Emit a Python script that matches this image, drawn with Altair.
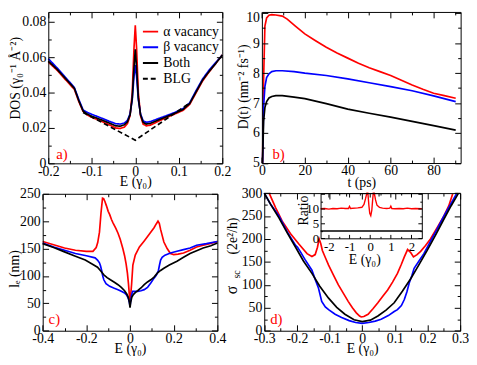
import altair as alt
import pandas as pd

FONT = "Liberation Serif"
W, H = 469, 349

A_SERIES = ["α vacancy", "β vacancy", "Both", "BLG"]
SERIES = ["α vacancy", "β vacancy", "Both"]
COLORS = ["#ff0000", "#0000ff", "#000000"]

# ---------------- (a) DOS ----------------
A_E = [-0.2, -0.18, -0.16, -0.14, -0.13, -0.12, -0.11, -0.1, -0.08, -0.06, -0.045, -0.035, -0.025,
       -0.018, -0.012, -0.007, -0.003, 0.0, 0.003, 0.007, 0.012, 0.018, 0.025, 0.035, 0.05, 0.07,
       0.09, 0.11, 0.125, 0.14, 0.155, 0.17, 0.185, 0.2]
A_ALPHA = [0.0573, 0.0527, 0.0472, 0.0418, 0.0350, 0.0293, 0.0273, 0.0260, 0.0240, 0.0218, 0.0200,
           0.0197, 0.0205, 0.0225, 0.027, 0.040, 0.065, 0.078, 0.065, 0.040, 0.027, 0.0222, 0.0212,
           0.0216, 0.0234, 0.0257, 0.0278, 0.0300, 0.0333, 0.0400, 0.0467, 0.0518, 0.0565, 0.0613]
A_BETA = [0.0592, 0.0540, 0.0485, 0.0428, 0.0362, 0.0302, 0.0288, 0.0277, 0.0258, 0.0238, 0.0224,
          0.0222, 0.0228, 0.0243, 0.028, 0.036, 0.049, 0.0555, 0.049, 0.036, 0.028, 0.0240, 0.0232,
          0.0236, 0.0250, 0.0268, 0.0287, 0.0310, 0.0342, 0.0412, 0.0478, 0.0528, 0.0570, 0.0612]
A_BOTH = [0.0578, 0.0532, 0.0478, 0.0424, 0.0355, 0.0296, 0.0278, 0.0266, 0.0248, 0.0228, 0.0212,
          0.0210, 0.0218, 0.0235, 0.0275, 0.037, 0.054, 0.0645, 0.054, 0.037, 0.0275, 0.0232, 0.0222,
          0.0226, 0.0242, 0.0262, 0.0282, 0.0305, 0.0338, 0.0405, 0.0472, 0.0521, 0.0565, 0.0612]
A_BLG_E = [-0.12, 0.0, 0.1225]
A_BLG = [0.0288, 0.0131, 0.0337]

# ---------------- (b) D(t) ----------------
B_T_RED = [0.3, 0.8, 1.4, 2.2, 3.3, 4.6, 6.5, 9.5, 11.8, 15.6, 20, 25, 30, 35, 40, 45, 50, 55, 60,
           65, 70, 75, 80, 85, 90.3]
B_RED = [5.0, 7.8, 9.57, 9.84, 9.93, 9.95, 9.94, 9.9, 9.8, 9.57, 9.31, 9.08, 8.86, 8.67, 8.5, 8.33,
         8.18, 8.05, 7.92, 7.76, 7.6, 7.46, 7.33, 7.25, 7.16]
B_T = [0.3, 0.8, 1.4, 2.2, 3.3, 4.6, 6.5, 9.5, 15, 20, 30, 40, 50, 60, 70, 80, 90.3]
B_BLUE = [5.0, 6.9, 7.55, 7.85, 7.98, 8.05, 8.08, 8.08, 8.05, 8.0, 7.92, 7.81, 7.68, 7.55, 7.41, 7.24, 7.05]
B_BLACK = [5.0, 6.4, 6.85, 7.05, 7.17, 7.22, 7.25, 7.25, 7.2, 7.15, 6.98, 6.8, 6.66, 6.53, 6.39, 6.25, 6.1]

# ---------------- (c) l_e ----------------
C_E_RED = [-0.4, -0.35, -0.3, -0.25, -0.2, -0.17, -0.155, -0.148, -0.14, -0.133, -0.126, -0.121,
           -0.115, -0.108, -0.1, -0.093, -0.085, -0.078, -0.065, -0.055, -0.045, -0.033, -0.025,
           -0.018, -0.012, -0.007, -0.003, 0.0, 0.003, 0.007, 0.013, 0.024, 0.043, 0.065, 0.088,
           0.11, 0.12, 0.128, 0.134, 0.14, 0.155, 0.17, 0.185, 0.2, 0.22, 0.245, 0.275, 0.305,
           0.335, 0.365, 0.4]
C_RED = [163, 157, 151, 147, 145, 145, 152, 161, 180, 215, 242, 241, 236, 228, 218, 212, 203, 197,
         187, 178, 167, 150, 137, 122, 105, 85, 65, 48, 65, 84, 120, 138, 153, 164, 176, 188, 195,
         200, 196, 185, 162, 150, 141, 139, 140, 142, 147, 153, 156, 159, 163]
C_E_BLUE = [-0.4, -0.35, -0.3, -0.25, -0.2, -0.16, -0.149, -0.14, -0.135, -0.13, -0.125, -0.12,
            -0.11, -0.093, -0.075, -0.055, -0.04, -0.025, -0.015, -0.007, -0.003, 0.0, 0.003,
            0.007, 0.012, 0.02, 0.035, 0.05, 0.065, 0.08, 0.095, 0.11, 0.12, 0.125, 0.13, 0.135,
            0.14, 0.147, 0.16, 0.185, 0.215, 0.245, 0.275, 0.305, 0.35, 0.4]
C_BLUE = [160, 153, 147, 141, 137, 133, 129, 124, 118, 110, 100, 93, 86, 81, 78, 75, 72, 69, 65,
          58, 52, 45, 55, 65, 72, 72, 72, 73, 75, 79, 87, 96, 101, 105, 110, 120, 129, 134, 138,
          142, 145, 148, 151, 156, 159, 163]
C_E_BLACK = [-0.4, -0.35, -0.3, -0.25, -0.205, -0.17, -0.149, -0.134, -0.12, -0.105, -0.09, -0.07,
             -0.055, -0.04, -0.025, -0.015, -0.008, -0.003, 0.0, 0.003, 0.008, 0.015, 0.025,
             0.035, 0.05, 0.065, 0.08, 0.095, 0.11, 0.125, 0.14, 0.155, 0.18, 0.215, 0.245,
             0.275, 0.305, 0.335, 0.37, 0.4]
C_BLACK = [159, 152, 144, 136, 129, 121, 116, 109, 102, 97, 93, 88, 84, 79, 73, 67, 61, 52, 42,
           52, 61, 66, 70, 73, 78, 84, 89, 93, 98, 105, 110, 114, 120, 127, 134, 141, 146, 151,
           155, 160]

# ---------------- (d) sigma_sc ----------------
D_E_RED = [-0.285, -0.265, -0.245, -0.22, -0.194, -0.169, -0.154, -0.144, -0.137, -0.132, -0.127,
           -0.122, -0.112, -0.103, -0.088, -0.073, -0.058, -0.043, -0.03, -0.018, -0.008, -0.003,
           0.005, 0.018, 0.033, 0.048, 0.063, 0.078, 0.093, 0.108, 0.12, 0.129, 0.139, 0.149,
           0.157, 0.168, 0.179, 0.194, 0.209, 0.23, 0.25, 0.265, 0.277]
D_RED = [300, 268, 239, 212, 189, 168, 162, 166, 182, 200, 190, 175, 158, 143, 121, 100, 82, 64,
         50, 39, 32, 30, 31, 36, 48, 61, 75, 89, 106, 125, 145, 161, 177, 170, 161, 166, 173, 186,
         200, 225, 250, 272, 298]
D_E_BLUE = [-0.3, -0.28, -0.255, -0.23, -0.204, -0.198, -0.19, -0.175, -0.154, -0.144, -0.134,
            -0.124, -0.113, -0.103, -0.083, -0.063, -0.04, -0.02, 0.0, 0.02, 0.04, 0.058, 0.08,
            0.098, 0.108, 0.12, 0.129, 0.137, 0.144, 0.152, 0.159, 0.175, 0.189, 0.209, 0.229,
            0.25, 0.27, 0.29]
D_BLUE = [300, 275, 250, 216, 186, 182, 173, 155, 132, 112, 93, 64, 52, 46, 36, 29, 22, 18, 16, 18,
          21, 25, 33, 42, 46, 55, 68, 85, 104, 120, 136, 153, 168, 195, 221, 250, 275, 300]
D_E_BLACK = [-0.3, -0.28, -0.255, -0.23, -0.204, -0.18, -0.154, -0.13, -0.103, -0.078, -0.053,
             -0.025, 0.0, 0.025, 0.048, 0.073, 0.098, 0.123, 0.149, 0.174, 0.199, 0.225, 0.25,
             0.272, 0.295]
D_BLACK = [300, 275, 246, 214, 182, 152, 125, 97, 71, 51, 36, 24, 20, 23, 32, 45, 61, 86, 114, 144,
           175, 209, 243, 272, 300]

# ---------------- inset: ratio ----------------
I_E_RED = [-2.4, -2.2, -2.0, -1.8, -1.6, -1.4, -1.2, -1.05, -1.0, -0.95, -0.6, -0.4, -0.3, -0.22,
           -0.16, -0.11, -0.06, -0.02, 0.03, 0.08, 0.12, 0.15, 0.2, 0.26, 0.33, 0.45, 0.6, 0.8,
           0.95, 1.0, 1.05, 1.2, 1.4, 1.6, 1.8, 2.0, 2.2, 2.5]
I_RED = [10.0, 10.1, 9.9, 10.1, 10.0, 10.2, 10.1, 10.1, 10.8, 10.1, 10.3, 10.5, 11.5, 13.5, 15.3,
         15.3, 11.0, 8.5, 7.7, 9.5, 13.0, 15.3, 15.3, 13.0, 11.2, 10.5, 10.2, 10.1, 10.2, 10.9,
         10.1, 10.0, 10.1, 10.0, 10.2, 10.0, 10.1, 10.0]
I_E_BLACK = [-2.4, 2.5]
I_BLACK = [2.5, 2.5]

# ---------------- ticks ----------------
A_XMAJ = [-0.2, -0.1, 0.0, 0.1, 0.2]
A_XMIN = [-0.15, -0.05, 0.05, 0.15]
A_YMAJ = [0.0, 0.02, 0.04, 0.06, 0.08]
A_YMIN = [0.01, 0.03, 0.05, 0.07]
B_XMAJ = [0, 20, 40, 60, 80]
B_XMIN = [10, 30, 50, 70, 90]
B_YMAJ = [5, 6, 7, 8, 9, 10]
B_YMIN = [5.5, 6.5, 7.5, 8.5, 9.5]
C_XMAJ = [-0.4, -0.2, 0.0, 0.2, 0.4]
C_XMIN = [-0.3, -0.1, 0.1, 0.3]
C_YMAJ = [0, 50, 100, 150, 200, 250]
C_YMIN = [25, 75, 125, 175, 225]
D_XMAJ = [-0.3, -0.2, -0.1, 0.0, 0.1, 0.2, 0.3]
D_XMIN = [-0.25, -0.15, -0.05, 0.05, 0.15, 0.25]
D_YMAJ = [0, 50, 100, 150, 200, 250, 300]
D_YMIN = [25, 75, 125, 175, 225, 275]
I_XMAJ = [-2, -1, 0, 1, 2]
I_XMIN = [-1.5, -0.5, 0.5, 1.5]
I_YMAJ = [0, 5, 10, 15]
I_YMIN = [2.5, 7.5, 12.5]

# ---------------- layout (pixels inside the chart) ----------------
PANEL_A = dict(xdom=[-0.2, 0.2], ydom=[0.0, 0.0856], xr=[41, 218], yr=[155, 1])
PANEL_B = dict(xdom=[0, 92.6], ydom=[5, 10.04], xr=[258.3, 460.5], yr=[154.7, 1])
PANEL_C = dict(xdom=[-0.4, 0.4], ydom=[0, 250], xr=[35.3, 213], yr=[325.3, 186])
PANEL_D = dict(xdom=[-0.3, 0.3], ydom=[0, 300], xr=[260.7, 460], yr=[325.3, 185.3])
INSET = dict(xdom=[-2.4, 2.5], ydom=[0, 15.3], xr=[318, 421], yr=[231.3, 185.3])

LABEL_EXPR = "replace(format(datum.value, '~g'), '\u2212', '-')"


def scales(p):
    xs = alt.Scale(domain=p["xdom"], range=p["xr"], nice=False, zero=False)
    ys = alt.Scale(domain=p["ydom"], range=p["yr"], nice=False, zero=False)
    return xs, ys


def offsets(p):
    return {"bottom": p["yr"][0] - H, "top": -p["yr"][1],
            "left": -p["xr"][0], "right": p["xr"][1] - W}


def tick_layers(p, xmaj, xmin, ymaj, ymin, big=6, small=3):
    xs, ys = scales(p)
    off = offsets(p)
    corners = pd.DataFrame({"x": p["xdom"], "y": p["ydom"]})
    specs = [("bottom", "left", xmaj, ymaj, big, True),
             ("top", "right", xmaj, ymaj, big, True),
             ("bottom", "left", xmin, ymin, small, False),
             ("top", "right", xmin, ymin, small, False)]
    out = []
    for xo, yo, xv, yv, size, dom in specs:
        common = dict(labels=False, domain=dom, title=None, grid=False,
                      tickSize=alt.ExprRef(expr=str(-size)), domainColor="black",
                      tickColor="black", tickWidth=1, domainWidth=1, zindex=1)
        xa = alt.Axis(orient=xo, offset=off[xo], values=xv, **common)
        ya = alt.Axis(orient=yo, offset=off[yo], values=yv, **common)
        out.append(alt.Chart(corners).mark_point(opacity=0).encode(
            x=alt.X("x:Q", scale=xs, axis=xa), y=alt.Y("y:Q", scale=ys, axis=ya)))
    return out


def label_axes(p, xvals, yvals, xtitle, ytitle, xt_y, yt_x, yt_y, xt_x=None,
               size=14, tsize=14, xpad=1, ypad=2.5, ylab_offset=None):
    off = offsets(p)
    common = dict(ticks=False, domain=False, grid=False, labelExpr=LABEL_EXPR,
                  labelFlush=False, labelOverlap=False, labelFont=FONT, labelFontSize=size,
                  labelColor="black", titleFont=FONT, titleFontSize=tsize,
                  titleFontWeight="normal", titleColor="black", titleBaseline="alphabetic",
                  zindex=1)
    xkw = dict(titleY=xt_y)
    if xt_x is not None:
        xkw["titleX"] = xt_x
    xa = alt.Axis(orient="bottom", offset=off["bottom"], values=xvals, title=xtitle,
                  labelPadding=xpad, **xkw, **common)
    ykw = {}
    if ylab_offset is not None:
        ykw["labelOffset"] = ylab_offset
    if ytitle is None:
        ya = alt.Axis(orient="left", offset=off["left"], values=yvals, title=None,
                      labelPadding=ypad, **ykw, **common)
    else:
        ya = alt.Axis(orient="left", offset=off["left"], values=yvals, title=ytitle,
                      labelPadding=ypad, titleX=yt_x, titleY=yt_y, titleAngle=270,
                      **ykw, **common)
    return xa, ya


def long_df(parts):
    rows = []
    for name, xs, ys in parts:
        for xv, yv in zip(xs, ys):
            rows.append({"x": xv, "y": yv, "series": name})
    return pd.DataFrame(rows)


def line_layer(p, df, xa, ya, domain, colors, legend=None, dashes=None, width=1.7):
    xs, ys = scales(p)
    enc = dict(
        x=alt.X("x:Q", scale=xs, axis=xa),
        y=alt.Y("y:Q", scale=ys, axis=ya),
        color=alt.Color("series:N", scale=alt.Scale(domain=domain, range=colors),
                        legend=legend, sort=domain),
    )
    if dashes is not None:
        enc["strokeDash"] = alt.StrokeDash("series:N", scale=alt.Scale(domain=domain, range=dashes),
                                           legend=legend, sort=domain)
    return alt.Chart(df).mark_line(strokeWidth=width).encode(**enc)


def text_layer(txt, x, y, size=15, color="black", angle=0, align="left", baseline="middle"):
    return alt.Chart(pd.DataFrame({"t": [txt]})).mark_text(
        font=FONT, fontSize=size, color=color, angle=angle, align=align, baseline=baseline
    ).encode(x=alt.value(x), y=alt.value(y), text="t:N")


layers = []

# ---- panel a ----
layers += tick_layers(PANEL_A, A_XMAJ, A_XMIN, A_YMAJ, A_YMIN)
xa, ya = label_axes(PANEL_A, A_XMAJ, A_YMAJ, "E (γ₀)", "DOS (γ₀⁻¹ Å⁻²)", 22.5, -29, 68)
a_df = long_df([("α vacancy", A_E, A_ALPHA), ("β vacancy", A_E, A_BETA),
                ("Both", A_E, A_BOTH), ("BLG", A_BLG_E, A_BLG)])
a_leg = alt.Legend(orient="none", legendX=136, legendY=12, title=None, labelFont=FONT,
                   labelFontSize=14, labelColor="black", symbolType="stroke",
                   symbolStrokeWidth=2, symbolSize=240, rowPadding=0, padding=0,
                   labelOffset=4)
layers.append(line_layer(PANEL_A, a_df, xa, ya, A_SERIES, COLORS + ["#000000"], legend=a_leg,
                         dashes=[[1, 0], [1, 0], [1, 0], [5, 3]]))
layers.append(text_layer("a)", 49, 145.5, color="#ff0000"))

# ---- panel b ----
layers += tick_layers(PANEL_B, B_XMAJ, B_XMIN, B_YMAJ, B_YMIN)
xa, ya = label_axes(PANEL_B, B_XMAJ, B_YMAJ, "t (ps)", "D(t) (nm⁻² fs⁻¹)", 23.5, -14.3, 76.7,
                    ylab_offset={"condition": {"test": "datum.value >= 10", "value": 4},
                                 "value": 0})
b_df = long_df([("α vacancy", B_T_RED, B_RED), ("β vacancy", B_T, B_BLUE), ("Both", B_T, B_BLACK)])
layers.append(line_layer(PANEL_B, b_df, xa, ya, SERIES, COLORS))
layers.append(text_layer("b)", 269, 145.5, color="#ff0000"))

# ---- panel c ----
layers += tick_layers(PANEL_C, C_XMAJ, C_XMIN, C_YMAJ, C_YMIN)
xa, ya = label_axes(PANEL_C, C_XMAJ, C_YMAJ, "E (γ₀)", "lₑ (nm)", 21.7, -25, 262)
c_df = long_df([("α vacancy", C_E_RED, C_RED), ("β vacancy", C_E_BLUE, C_BLUE),
                ("Both", C_E_BLACK, C_BLACK)])
layers.append(line_layer(PANEL_C, c_df, xa, ya, SERIES, COLORS))
layers.append(text_layer("c)", 41.3, 313, color="#ff0000"))

# ---- panel d ----
layers += tick_layers(PANEL_D, D_XMAJ, D_XMIN, D_YMAJ, D_YMIN)
xa, ya = label_axes(PANEL_D, D_XMAJ, D_YMAJ, "E (γ₀)", None, 21.7, 0, 0)
d_df = long_df([("α vacancy", D_E_RED, D_RED), ("β vacancy", D_E_BLUE, D_BLUE),
                ("Both", D_E_BLACK, D_BLACK)])
layers.append(line_layer(PANEL_D, d_df, xa, ya, SERIES, COLORS))
layers.append(text_layer("d)", 266.7, 313, color="#ff0000"))
layers.append(text_layer("σ", 232.5, 284, size=16, angle=270, align="center", baseline="alphabetic"))
layers.append(text_layer("sc", 236.5, 268, size=10, angle=270, align="center", baseline="alphabetic"))
layers.append(text_layer("(2e²/h)", 232.5, 229, size=14, angle=270, align="center",
                         baseline="alphabetic"))

# ---- inset ----
layers += tick_layers(INSET, I_XMAJ, I_XMIN, I_YMAJ, I_YMIN, big=4, small=2)
xa, ya = label_axes(INSET, I_XMAJ, I_YMAJ[:3], "E (γ₀)", "Ratio", 26, -13.5, 202.5, xt_x=362.5,
                    size=13, tsize=14, xpad=2, ypad=2)
i_df = long_df([("α vacancy", I_E_RED, I_RED), ("Both", I_E_BLACK, I_BLACK)])
layers.append(line_layer(INSET, i_df, xa, ya, ["α vacancy", "Both"], ["#ff0000", "#000000"],
                         width=1.4))

chart = (
    alt.layer(*layers)
    .resolve_scale(x="independent", y="independent", color="independent",
                   strokeDash="independent")
    .resolve_axis(x="independent", y="independent")
    .properties(width=W, height=H, autosize=alt.AutoSizeParams(type="none"), padding=0)
    .configure_view(stroke=None)
    .configure_axis(grid=False)
)

chart.save("out.html", embed_options={"renderer": "svg", "actions": False})
